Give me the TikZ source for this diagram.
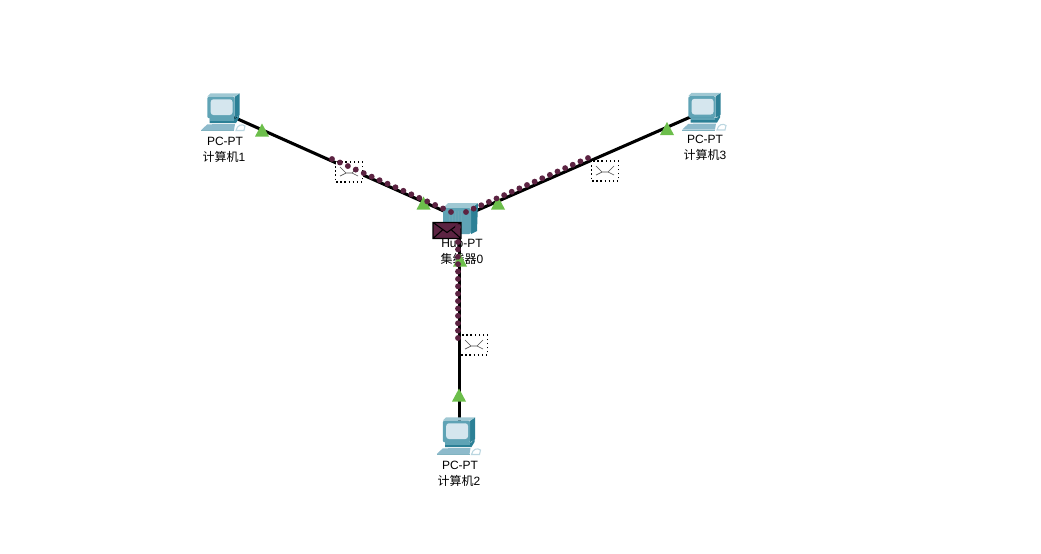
\documentclass[tikz,border=0pt]{standalone}
\usepackage{fontspec}
\setmainfont{Liberation Sans}
\newfontfamily\cjk{Noto Sans CJK SC}
\usetikzlibrary{positioning,calc}
\definecolor{caseblue}{HTML}{5FA3B5}
\definecolor{casedark}{HTML}{2C8096}
\definecolor{screenblue}{HTML}{D5E6EE}
\definecolor{padblue}{HTML}{8DBACB}
\definecolor{flaggreen}{HTML}{6CBE4B}
\definecolor{pdumaroon}{HTML}{5C2342}
\tikzset{
  devlabel/.style={font=\fontsize{9pt}{10pt}\selectfont,inner sep=0pt,text=black},
  anchorpt/.style={inner sep=0pt,minimum size=0pt},
  wire/.style={line width=2.3pt,black},
  pc icon/.pic={
    \fill[casedark] (12.7,-15.3) -- (17.7,-18.7) -- (17.7,3) -- (12.7,6.3) -- cycle;
    \fill[caseblue!60!white] (-14.7,-15.3) -- (-11.5,-18.7) -- (17.7,-18.7) -- (12.7,-15.3) -- cycle;
    \fill[caseblue,rounded corners=1.5pt] (-14.7,-15.3) rectangle (12.7,6.3);
    \fill[screenblue,rounded corners=2pt] (-11.3,-12.7) rectangle (10.5,3);
    \fill[casedark] (-12.3,6.3) -- (14,6.3) -- (17,3) -- (17,6) -- (14,11) -- (-12.3,11) -- cycle;
    \fill[caseblue] (-12.3,6.3) rectangle (12,8.5);
    \fill[padblue] (-14.7,12.3) -- (13,12) -- (12,18) -- (-20.7,18) -- cycle;
    \fill[casedark!60!white] (-20.7,18) -- (12,18) -- (12,19.3) -- (-20.7,19.3) -- cycle;
    \draw[padblue!60!white,line width=0.8pt] (14,18.5) .. controls (15,13) and (20,11.5) .. (23,14) -- (22,18.5) -- cycle;
  },
  flag/.pic={\fill[flaggreen] (-7,6.5) -- (0,-6.5) -- (7,6.5) -- cycle;},
  mail lines/.style={line width=0.5pt},
  mail/.pic={
    \fill[white] (-13.5,-10) rectangle (13.5,10);
    \draw[black,dotted,line width=1.1pt] (-13.5,-10) rectangle (13.5,10);
    \draw[black!70,mail lines] (-9,-5) -- (-3,1) -- (3,1) -- (9,-5) (-9,4) -- (-3,1) (3,1) -- (9,4);
  },
  mail dark/.pic={
    \fill[pdumaroon] (-14,-8) rectangle (14,8);
    \draw[black,line width=0.8pt] (-14,-8) rectangle (14,8) (-14,-8) -- (0,2) -- (14,-8) (-14,8) -- (-4,-1) (14,8) -- (4,-1);
  },
  pdu/.style={circle,fill=pdumaroon,inner sep=0pt,minimum size=4.4pt}
}
\begin{document}
\begin{tikzpicture}[x=0.75pt,y=-0.75pt,on grid,node distance=12pt]
   \useasboundingbox (0,0) rectangle (1041,553);
   % labels go under the wires
   \node[devlabel] (pct1) at (225,141) {PC-PT};
   \node[devlabel] (name1) at (224,157) {{\cjk 计算机}1};
   \node[devlabel] (pct2) at (460,465) {PC-PT};
   \node[devlabel] (name2) at (459,481) {{\cjk 计算机}2};
   \node[devlabel] (pct3) at (705,139) {PC-PT};
   \node[devlabel] (name3) [below=of pct3] {{\cjk 计算机}3};
   \node[devlabel] (hubt) at (462,243) {Hub-PT};
   \node[devlabel] (hubname) [below=of hubt] {{\cjk 集线器}0};
   \node[anchorpt] (pc1) at (222,112) {};
   \node[anchorpt] (pc2) at (457.5,436) {};
   \node[anchorpt] (pc3) at (703,111.5) {};
   \node[anchorpt] (hub) at (459.5,218) {};
   \draw[wire] (pc1) -- (hub);
   \draw[wire] (pc3) -- (hub);
   \draw[wire] (hub) -- (hub |- pc2);
   \pic at (pc1) {pc icon};
   \pic at (pc2) {pc icon};
   \pic at (pc3) {pc icon};
   % hub box
   \fill[casedark] (471,208) -- (478,203) -- (477,231) -- (471,234) -- cycle;
   \fill[caseblue!60!white] (443,208) -- (448,203) -- (478,203) -- (471,208) -- cycle;
   \fill[caseblue,rounded corners=1.5pt] (443,208) rectangle (471,234);
   \foreach \x in {449,452,455,458,461}
     \draw[casedark!70!white,line width=0.6pt] (\x,211) -- (\x,231);
   \foreach \p in {(262,130),(423.5,203),(498,203),(667,128.5),(459,395),(460,260)}
     \pic at \p {flag};
   % frames on the wires
   \coordinate (trail1a) at (332,159);
   \coordinate (trail1b) at (451,212);
   \coordinate (trail2a) at (458,242);
   \coordinate (trail2b) at (458,338);
   \coordinate (trail3a) at (588,158);
   \coordinate (trail3b) at (466,212);
   \pic at (349,172) {mail};
   \pic at (605,171) {mail};
   \pic at (474,345) {mail};
   \pic at (447,230.5) {mail dark};
   \foreach \t in {0,...,15}
     \node[pdu] at ($(trail1a)!\t/15!(trail1b)$) {};
   \foreach \t in {0,...,16}
     \node[pdu] at ($(trail3a)!\t/16!(trail3b)$) {};
   \foreach \t in {0,...,13}
     \node[pdu] at ($(trail2a)!\t/13!(trail2b)$) {};
   \node[pdu] at (458,227) {};
\end{tikzpicture}
\end{document}
